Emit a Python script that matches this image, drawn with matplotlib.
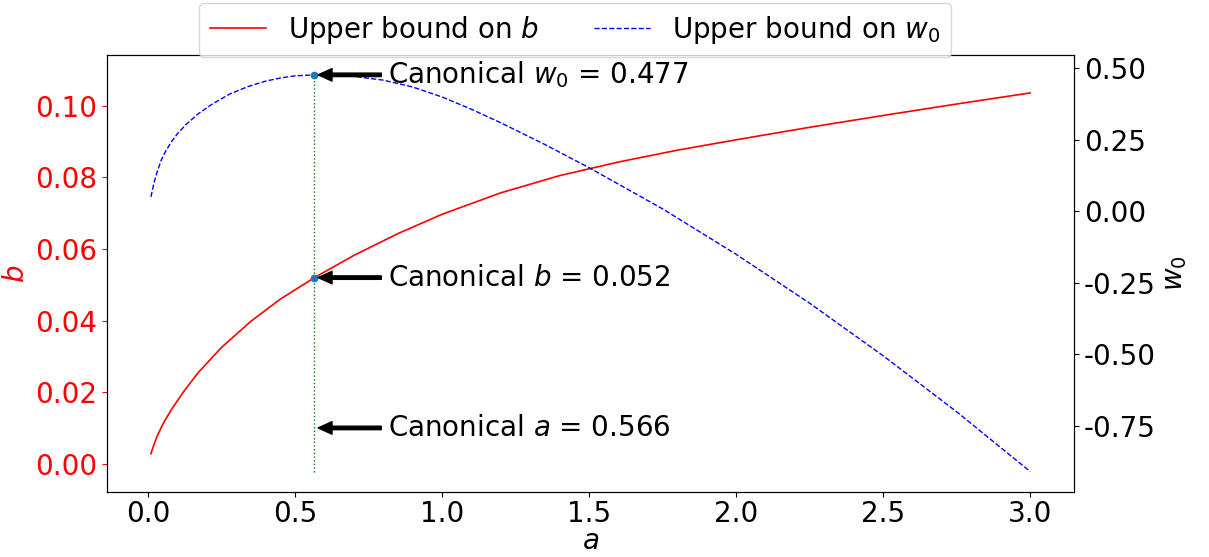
import matplotlib
matplotlib.use("Agg")
import matplotlib.pyplot as plt
import numpy as np

# values
a_b = [0.01, 0.02, 0.03, 0.05, 0.08, 0.12, 0.17, 0.25, 0.35, 0.45, 0.566, 0.7,
       0.85, 1.0, 1.2, 1.4, 1.6, 1.8, 2.0, 2.25, 2.5, 2.75, 3.0]
b_upper = [0.0028, 0.0053, 0.0075, 0.0110, 0.0152, 0.0200, 0.0254, 0.0325, 0.0398,
           0.0460, 0.0520, 0.0582, 0.0643, 0.0697, 0.0757, 0.0805, 0.0843, 0.0876,
           0.0905, 0.0940, 0.0973, 0.1005, 0.1036]

a_w = [0.01, 0.02, 0.03, 0.045, 0.06, 0.08, 0.1, 0.13, 0.17, 0.22, 0.28, 0.34,
       0.4, 0.45, 0.5, 0.566, 0.6, 0.7, 0.8, 0.9, 1.0, 1.1, 1.2, 1.35, 1.5,
       1.75, 2.0, 2.25, 2.5, 2.75, 3.0]
w0_upper = [0.050, 0.098, 0.134, 0.179, 0.210, 0.243, 0.271, 0.304, 0.340, 0.376,
            0.411, 0.436, 0.455, 0.466, 0.4735, 0.477, 0.4765, 0.4715, 0.4585,
            0.4345, 0.3995, 0.3565, 0.309, 0.233, 0.152, 0.008, -0.151, -0.322,
            -0.506, -0.702, -0.911]

a_can = 0.566
b_can = 0.052
w0_can = 0.477
a_text_y = 0.01   # arrow height for the "Canonical a" note, in b units
line_bottom = -0.0022

fs = 20

fig = plt.figure(figsize=(12.09, 5.57), dpi=100)
ax = fig.add_axes([0.0885, 0.1167, 0.80, 0.7846])
ax2 = ax.twinx()

l1, = ax.plot(a_b, b_upper, color="red", lw=1.2, label="Upper bound on $b$")
l2, = ax2.plot(a_w, w0_upper, color="blue", ls="--", lw=1.0, label="Upper bound on $w_0$")

ax.set_xlim(-0.1395, 3.1495)
ax.set_ylim(-0.0079, 0.1142)
ax2.set_ylim(-0.9825, 0.5465)

# dotted line from the bottom up to the w0 peak marker
top = ax.transData.inverted().transform(ax2.transData.transform((a_can, w0_can)))[1]
ax.vlines(a_can, line_bottom, top, colors="green", linestyles=":", lw=1)

ax.plot([a_can], [b_can], "o", color="tab:blue", ms=4.5)
ax2.plot([a_can], [w0_can], "o", color="tab:blue", ms=4.5)

arrow = dict(facecolor="black", edgecolor="black", shrink=0.05, width=2.5,
             headwidth=9, headlength=10)
tx = 0.815
ax2.annotate("Canonical $w_0$ = 0.477", xy=(a_can, w0_can), xytext=(tx, w0_can),
             fontsize=fs, va="center", ha="left", arrowprops=arrow)
ax.annotate("Canonical $b$ = 0.052", xy=(a_can, b_can), xytext=(tx, b_can),
            fontsize=fs, va="center", ha="left", arrowprops=arrow)
ax.annotate("Canonical $a$ = 0.566", xy=(a_can, a_text_y), xytext=(tx, a_text_y),
            fontsize=fs, va="center", ha="left", arrowprops=arrow)

ax.set_xticks(np.arange(0, 3.01, 0.5))
ax.set_yticks(np.arange(0, 0.101, 0.02))
ax.yaxis.set_major_formatter(matplotlib.ticker.FormatStrFormatter("%.2f"))
ax2.set_yticks([0.5, 0.25, 0.0, -0.25, -0.5, -0.75])
ax2.yaxis.set_major_formatter(matplotlib.ticker.FormatStrFormatter("%.2f"))

ax.tick_params(axis="x", labelsize=fs, pad=2.5)
ax.tick_params(axis="y", labelsize=fs, colors="red")
ax2.tick_params(axis="y", labelsize=fs)

ax.set_xlabel("$a$", fontsize=fs, labelpad=-1)
ax.set_ylabel("$b$", fontsize=fs, color="red")
ax2.set_ylabel("$w_0$", fontsize=fs)

fig.legend(handles=[l1, l2], loc="upper center", bbox_to_anchor=(575 / 1209, 1.0),
           ncol=2, fontsize=fs, borderaxespad=0.1)

fig.savefig("out.png", dpi=100)
